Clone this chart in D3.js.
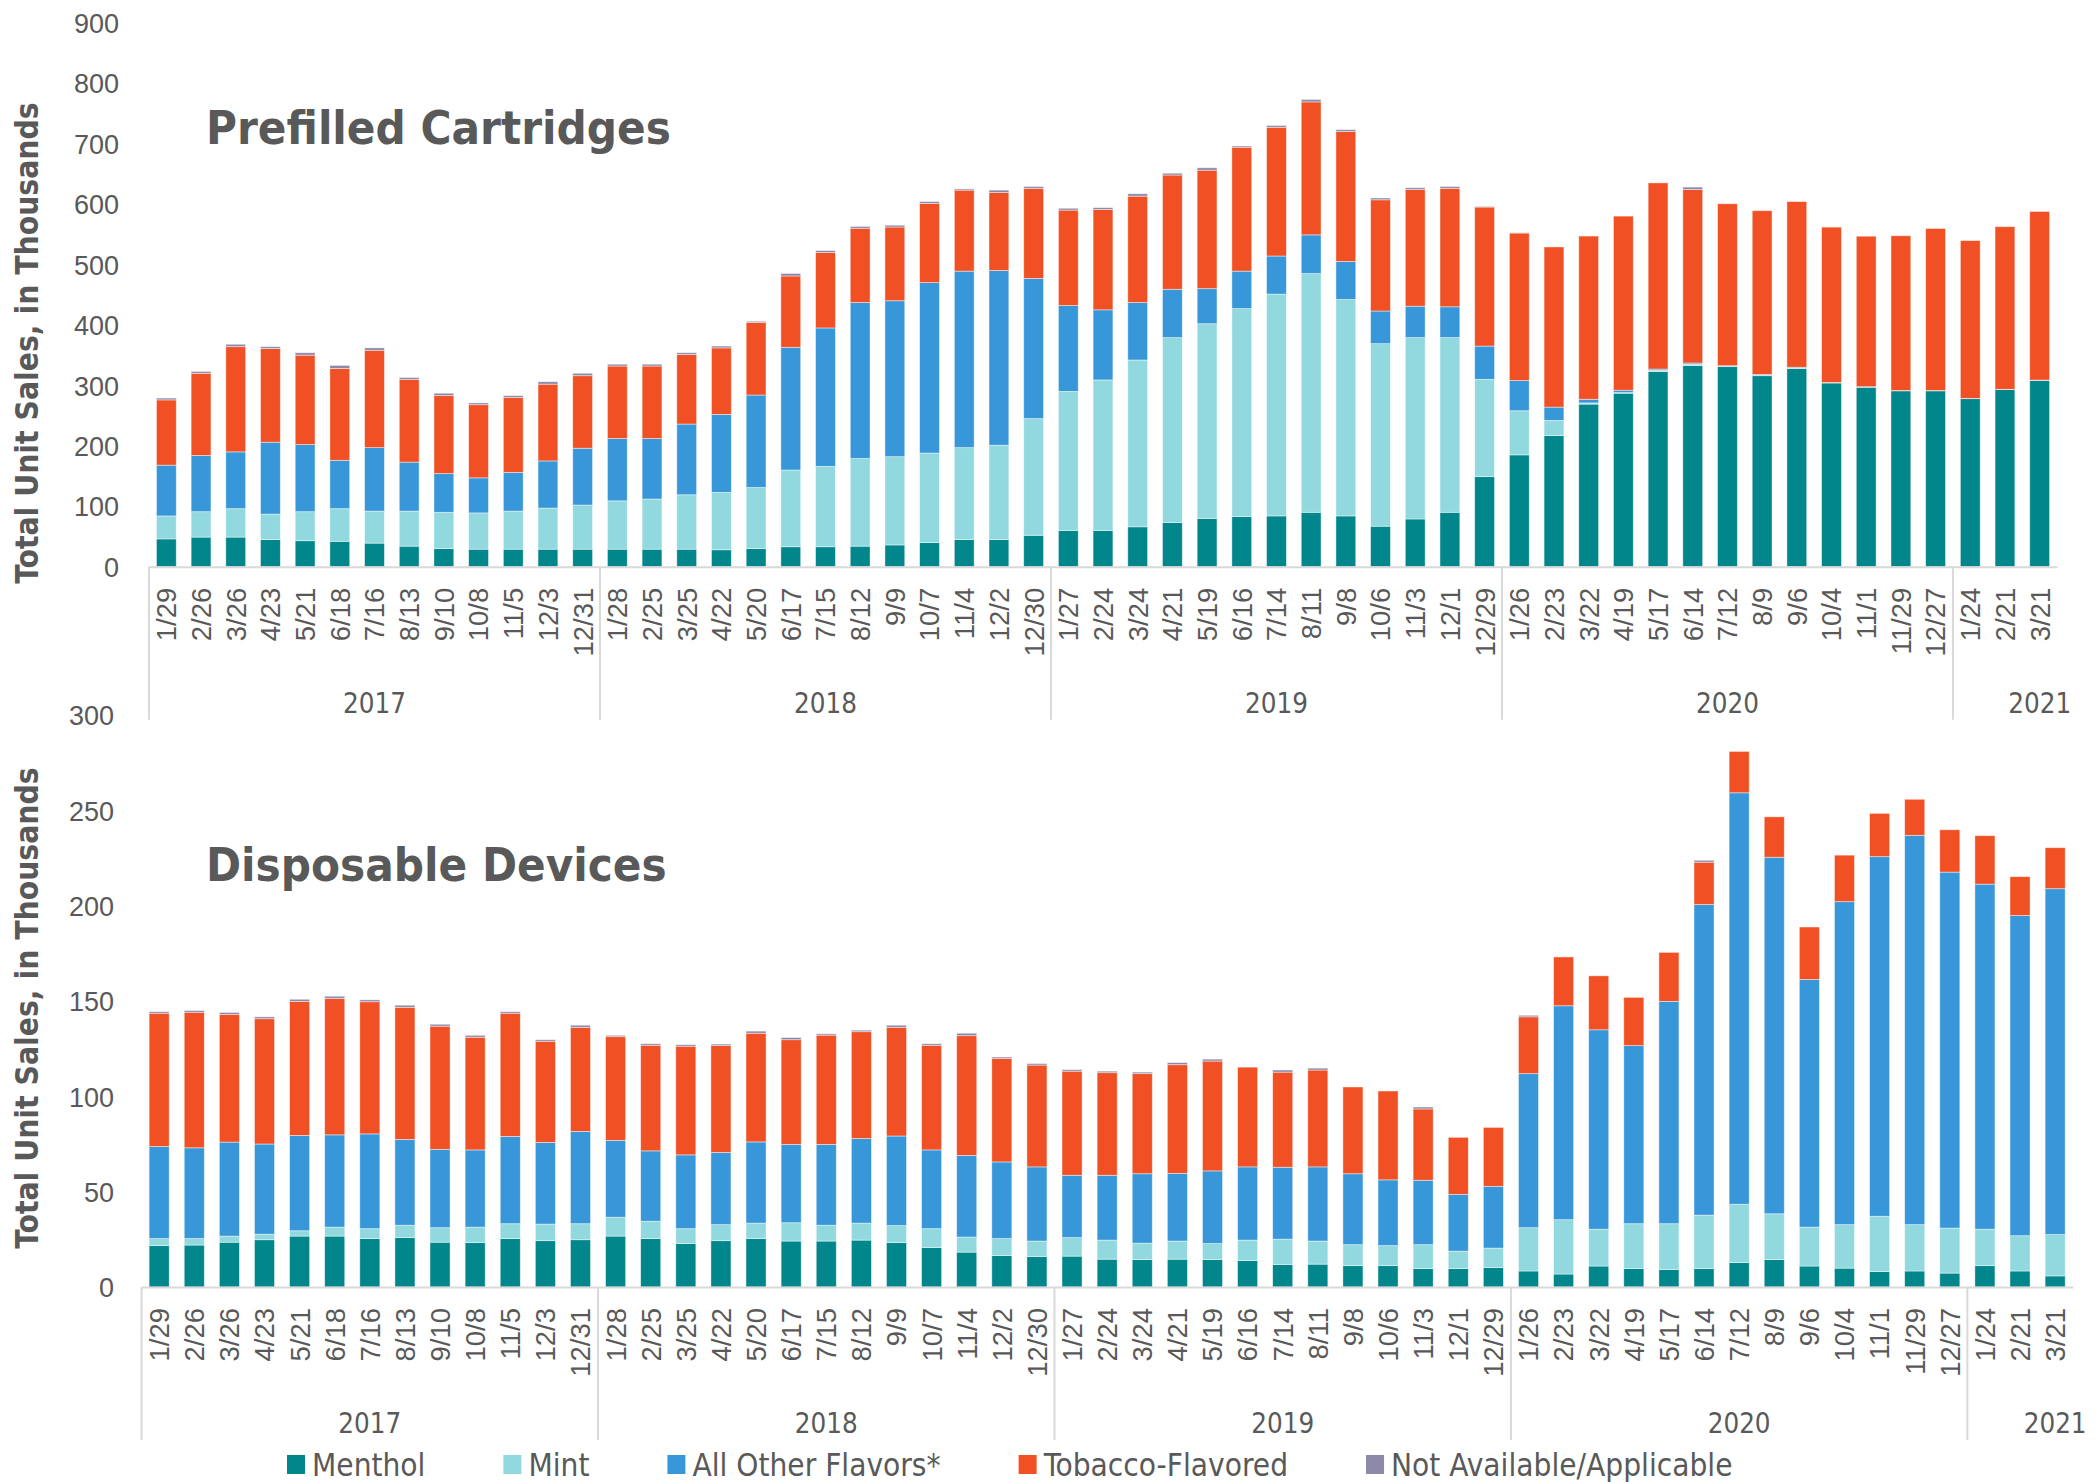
<!DOCTYPE html>
<html>
<head>
<meta charset="utf-8">
<script src="https://cdn.jsdelivr.net/npm/d3@7"></script>
<style>
	body { margin: 0; background: #fff; }
	svg { display: block; font-family: "DejaVu Sans Condensed", "DejaVu Sans", sans-serif; font-stretch: condensed; }
	.tick-label, .year-label, .legend-label, .value-label { fill: #595959; }
	.panel-title, .axis-title { fill: #595959; font-weight: bold; }
</style>
</head>
<body>
<div id="chart"></div>
<script>
'use strict';

/*** Data ---> ***/
var weekLabels = [
	'1/29', '2/26', '3/26', '4/23', '5/21', '6/18', '7/16', '8/13', '9/10', '10/8', '11/5', '12/3', '12/31',
	'1/28', '2/25', '3/25', '4/22', '5/20', '6/17', '7/15', '8/12', '9/9', '10/7', '11/4', '12/2', '12/30',
	'1/27', '2/24', '3/24', '4/21', '5/19', '6/16', '7/14', '8/11', '9/8', '10/6', '11/3', '12/1', '12/29',
	'1/26', '2/23', '3/22', '4/19', '5/17', '6/14', '7/12', '8/9', '9/6', '10/4', '11/1', '11/29', '12/27',
	'1/24', '2/21', '3/21'
];
var years = ['2017', '2018', '2019', '2020', '2021'];
var weeksPerYear = [13, 13, 13, 13, 3];

var seriesNames = ['Menthol', 'Mint', 'All Other Flavors*', 'Tobacco-Flavored', 'Not Available/Applicable'];

// Prefilled cartridges, thousands of units
var cartMenthol = [46, 49, 49, 45, 43, 42, 39, 34, 30, 29, 29, 29, 29,
	29, 29, 29, 28, 30, 33, 33, 34, 36, 40, 45, 45, 52,
	60, 60, 66, 73, 80, 83, 84, 90, 84, 67, 79, 90, 149,
	185, 217, 269, 287, 323, 333, 331, 316, 328, 304, 297, 291, 291,
	278, 293, 308];
var cartMint = [38, 42, 47, 42, 48, 54, 53, 58, 60, 60, 63, 68, 73,
	80, 83, 90, 95, 101, 127, 133, 145, 146, 148, 152, 156, 193,
	230, 249, 276, 306, 322, 344, 367, 395, 358, 302, 300, 289, 161,
	73, 25, 2, 1, 2, 2, 0.5, 0.5, 0.5, 0.3, 0.3, 0.2, 0.2,
	0.2, 0.2, 0.2];
var cartOther = [84, 93, 94, 119, 111, 80, 105, 81, 64, 58, 64, 78, 94,
	103, 100, 117, 129, 153, 203, 229, 258, 258, 282, 292, 289, 232,
	142, 116, 95, 80, 58, 62, 63, 64, 63, 54, 52, 51, 55,
	50, 22, 6, 4, 2, 2, 1, 1.5, 1.5, 0.5, 0.5, 0.3, 0.3,
	0.3, 0.3, 0.5];
var cartTobacco = [108, 136, 174, 155, 148, 152, 161, 137, 129, 121, 124, 127, 120,
	120, 120, 115, 110, 120, 118, 125, 123, 122, 131, 134, 129, 149,
	158, 166, 176, 189, 196, 205, 213, 220, 215, 184, 193, 196, 230,
	244, 265, 270, 288, 308, 287, 268, 271, 274, 257, 249, 256, 268,
	261, 269, 279];
var cartUnknown = [3, 3, 4, 3, 4, 5, 4, 3, 4, 3, 3, 4, 4,
	3, 3, 3, 3, 2, 4, 3, 3, 3, 3, 2, 4, 3,
	3, 3, 4, 3, 4, 2, 3, 4, 3, 3, 3, 3, 1,
	0.5, 0, 0, 0, 0, 4, 0, 0, 0, 0, 0, 0, 0,
	0, 0, 0];

// Disposable devices, thousands of units
var dispMenthol = [21.7, 22.0, 23.5, 24.8, 26.7, 26.7, 25.4, 25.9, 23.5, 23.3, 25.4, 24.3, 24.8,
	26.7, 25.4, 22.8, 24.3, 25.4, 24.1, 24.1, 24.6, 23.3, 20.7, 18.3, 16.5, 16.0,
	16.2, 14.6, 14.4, 14.6, 14.4, 13.9, 11.8, 12.0, 11.2, 11.2, 9.7, 9.7, 10.2,
	8.4, 6.8, 11.0, 9.7, 9.2, 9.7, 12.8, 14.4, 11.0, 9.9, 8.1, 8.4, 7.3,
	11.2, 8.4, 5.8];
var dispMint = [3.7, 3.4, 3.2, 2.9, 2.8, 4.7, 5.2, 6.5, 7.6, 8.1, 7.8, 8.7, 8.4,
	9.9, 9.1, 7.8, 8.4, 8.1, 9.6, 8.3, 8.9, 8.9, 9.9, 7.9, 8.9, 8.1,
	9.7, 10.0, 8.6, 9.5, 8.4, 10.7, 13.3, 12.1, 11.0, 10.5, 12.5, 9.1, 10.2,
	22.7, 28.5, 19.3, 23.5, 24.0, 28.0, 30.6, 24.0, 20.4, 22.8, 29.0, 24.3, 23.6,
	19.1, 18.5, 21.7];
var dispOther = [48.3, 47.6, 49.3, 47.3, 50.0, 48.4, 49.7, 45.0, 41.1, 40.5, 45.8, 42.8, 48.4,
	40.3, 36.9, 38.7, 37.9, 42.6, 41.1, 42.4, 44.4, 47.0, 41.3, 42.8, 40.2, 38.9,
	32.7, 34.0, 36.4, 35.5, 38.1, 38.4, 37.7, 38.9, 37.2, 34.5, 33.8, 29.8, 32.4,
	80.8, 112.2, 104.6, 93.4, 116.6, 162.9, 215.8, 187.0, 129.9, 169.4, 188.6, 204.2, 186.7,
	181.0, 167.9, 181.4];
var dispTobacco = [69.9, 71.1, 67.0, 65.7, 70.3, 71.6, 69.3, 69.3, 64.6, 59.1, 64.6, 53.1, 54.6,
	54.4, 55.4, 57.0, 56.0, 57.0, 54.9, 57.3, 56.0, 57.0, 54.9, 62.8, 54.2, 53.4,
	54.6, 53.8, 52.5, 57.0, 57.6, 52.3, 49.9, 50.8, 45.5, 46.6, 37.4, 29.9, 30.9,
	29.8, 25.6, 28.3, 25.3, 25.7, 22.2, 21.7, 21.2, 27.5, 24.4, 22.7, 18.9, 22.2,
	25.4, 20.4, 21.5];
var dispUnknown = [0.8, 0.9, 1.0, 1.0, 1.1, 1.1, 1.0, 1.1, 1.0, 1.0, 0.8, 0.8, 1.1,
	0.7, 0.8, 0.8, 0.8, 1.1, 1.1, 0.7, 0.8, 1.1, 0.8, 1.3, 0.8, 0.8,
	0.8, 0.8, 0.8, 1.1, 1.0, 0, 1.1, 1.0, 0, 0, 1.0, 0, 0,
	0.8, 0, 0, 0, 0, 1.0, 0, 0, 0, 0, 0, 0, 0,
	0, 0, 0];

var cartTicks = [0, 100, 200, 300, 400, 500, 600, 700, 800, 900];
var dispTicks = [0, 50, 100, 150, 200, 250, 300];
/*** <--- Data ***/

var seriesColors = ['#00868b', '#91d9de', '#3897d9', '#f05023', '#8c88a8'];
var seriesKeys = ['menthol', 'mint', 'other', 'tobacco', 'unknown'];
var gridColor = '#d9d9d9';

var width = 2099, height = 1482;

var svg = d3.select('#chart')
	.append('svg')
	.attr('width', width)
	.attr('height', height);

svg.append('rect')
	.attr('width', width)
	.attr('height', height)
	.attr('fill', '#fff');

var panels = [
	{
		title: 'Prefilled Cartridges',
		series: [cartMenthol, cartMint, cartOther, cartTobacco, cartUnknown],
		ticks: cartTicks,
		left: 149, right: 2057, top: 22.7, base: 566.7,
		tickLabelX: 119, titleY: 143.7, axisTitleY: 343
	},
	{
		title: 'Disposable Devices',
		series: [dispMenthol, dispMint, dispOther, dispTobacco, dispUnknown],
		ticks: dispTicks,
		left: 141.6, right: 2072.7, top: 715, base: 1287,
		tickLabelX: 114, titleY: 880.5, axisTitleY: 1008
	}
];

function drawPanel(p) {
	var g = svg.append('g');

	// Excel gap width 75%: bar = step / 1.75, centred in its slot
	var x = d3.scaleBand()
		.domain(d3.range(weekLabels.length))
		.range([p.left, p.right])
		.paddingInner(0.75 / 1.75)
		.paddingOuter(0.75 / 3.5);
	var step = x.step();

	var y = d3.scaleLinear()
		.domain([0, d3.max(p.ticks)])
		.range([p.base, p.top]);

	var rows = weekLabels.map(function(w, i) {
		var row = { index: i };
		seriesKeys.forEach(function(k, s) { row[k] = p.series[s][i]; });
		return row;
	});
	var stacked = d3.stack().keys(seriesKeys)(rows);

	// Bars
	g.append('g')
		.selectAll('g')
		.data(stacked)
		.join('g')
		.attr('fill', function(d, i) { return seriesColors[i]; })
		.selectAll('rect')
		.data(function(d) { return d; })
		.join('rect')
		.attr('x', function(d) { return x(d.data.index); })
		.attr('width', x.bandwidth())
		.attr('y', function(d) { return y(d[1]); })
		.attr('height', function(d) { return Math.max(0, y(d[0]) - y(d[1])); })
		.attr('stroke', '#fff')
		.attr('stroke-opacity', 0.55)
		.attr('stroke-width', 0.8);

	// Value axis, labels only
	var yAxis = g.append('g')
		.attr('transform', 'translate(' + p.tickLabelX + ',0)')
		.call(d3.axisLeft(y).tickValues(p.ticks).tickSize(0).tickPadding(0));
	yAxis.select('.domain').remove();
	yAxis.selectAll('text')
		.attr('class', 'value-label')
		.attr('font-size', 27)
		.attr('dy', '0.36em')
		.attr('fill', null);

	// Category axis
	var xAxis = g.append('g')
		.attr('transform', 'translate(0,' + p.base + ')')
		.call(d3.axisBottom(x).tickSize(0).tickSizeOuter(0).tickFormat(function(i) { return weekLabels[i]; }));
	xAxis.select('.domain')
		.attr('stroke', gridColor)
		.attr('stroke-width', 2);
	xAxis.selectAll('text')
		.attr('class', 'tick-label')
		.attr('fill', null)
		.attr('font-size', 27.5)
		.attr('text-anchor', 'end')
		.attr('transform', 'translate(0,21) rotate(-90)')
		.attr('x', 0)
		.attr('y', 0)
		.attr('dy', '0.36em');

	// Year groups: separators and labels
	var starts = [0];
	weeksPerYear.forEach(function(n, i) { starts.push(starts[i] + n); });

	g.selectAll('line.year-sep')
		.data(years)
		.join('line')
		.attr('class', 'year-sep')
		.attr('x1', function(d, i) { return p.left + starts[i] * step; })
		.attr('x2', function(d, i) { return p.left + starts[i] * step; })
		.attr('y1', p.base)
		.attr('y2', p.base + 153)
		.attr('stroke', gridColor)
		.attr('stroke-width', 2);

	g.selectAll('text.year-label')
		.data(years)
		.join('text')
		.attr('class', 'year-label')
		.attr('font-size', 27.5)
		.attr('text-anchor', 'middle')
		.attr('x', function(d, i) {
			// the short last group gets its label pushed over to its final week
			if (i === years.length - 1) {
				return x(starts[i + 1] - 1) + x.bandwidth() / 2;
			}
			return p.left + (starts[i] + weeksPerYear[i] / 2) * step;
		})
		.attr('y', p.base + 146)
		.text(function(d) { return d; });

	// Titles
	g.append('text')
		.attr('class', 'panel-title')
		.attr('x', 206)
		.attr('y', p.titleY)
		.attr('font-size', 47)
		.text(p.title);

	g.append('text')
		.attr('class', 'axis-title')
		.attr('font-size', 31.5)
		.attr('text-anchor', 'middle')
		.attr('dy', '0.36em')
		.attr('transform', 'translate(27,' + p.axisTitleY + ') rotate(-90)')
		.text('Total Unit Sales, in Thousands');
}

panels.forEach(drawPanel);

// Legend
var legend = svg.append('g')
	.attr('transform', 'translate(287,1464.5)');
var cursor = 0;
seriesNames.forEach(function(name, i) {
	var item = legend.append('g').attr('transform', 'translate(' + cursor + ',0)');
	item.append('rect')
		.attr('x', 0)
		.attr('y', -9.5)
		.attr('width', 18)
		.attr('height', 19)
		.attr('fill', seriesColors[i]);
	var label = item.append('text')
		.attr('class', 'legend-label')
		.attr('x', 25)
		.attr('dy', '0.36em')
		.attr('font-size', 31.3)
		.text(name);
	cursor += 25 + label.node().getComputedTextLength() + 78;
});
</script>
</body>
</html>
